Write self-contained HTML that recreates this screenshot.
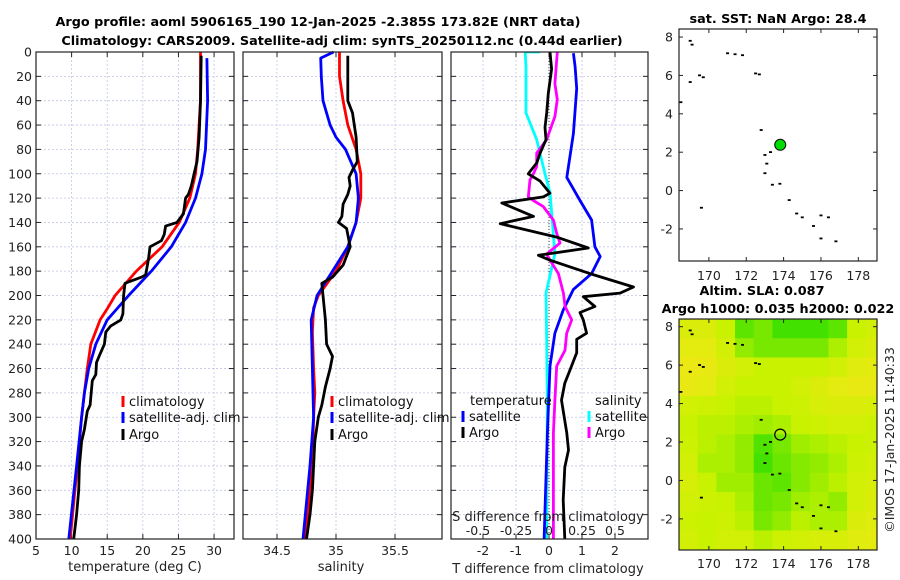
<!DOCTYPE html>
<html><head><meta charset="utf-8"><style>
html,body{margin:0;padding:0;background:#fff;}
svg{display:block;font-family:"DejaVu Sans","Liberation Sans",sans-serif;}
</style></head><body>
<svg id="fig" width="900" height="580" viewBox="0 0 900 580" xmlns="http://www.w3.org/2000/svg">
<rect width="900" height="580" fill="#fff"/>
<g id="titles" font-weight="bold" font-size="12.8" text-anchor="middle" fill="#000">
<text x="318" y="26">Argo profile: aoml 5906165_190 12-Jan-2025 -2.385S 173.82E (NRT data)</text>
<text x="342" y="45">Climatology: CARS2009. Satellite-adj clim: synTS_20250112.nc (0.44d earlier)</text>
<text x="778" y="23">sat. SST: NaN Argo: 28.4</text>
<text x="762" y="295">Altim. SLA: 0.087</text>
<text x="778" y="313">Argo h1000: 0.035 h2000: 0.022</text>
</g>
<text transform="translate(894,440) rotate(-90)" font-size="12.5" text-anchor="middle" fill="#222">©IMOS 17-Jan-2025 11:40:33</text>
</svg>
<script>
// ---------- data ----------
const depthTicks=[0,20,40,60,80,100,120,140,160,180,200,220,240,260,280,300,320,340,360,380,400];
const tempTicks=[5,10,15,20,25,30];
const salTicks=[34.5,35,35.5];
const tdiffTicks=[-2,-1,0,1,2];
const sdiffTicks=[-0.5,-0.25,0,0.25,0.5];
const sdiffTickLabels=["-0.5","-0.25","0","0.25","0.5"];

const argoTDepth=[3,40,70,90,100,110,117,120,133,140,143,150,155,160,170,183,185,190,200,215,220,225,230,240,248,255,265,270,290,295,310,320,340,360,380,400];
const argoT=[28.2,28.1,27.9,27.6,27.2,26.8,26.4,26.0,25.7,24.8,23.2,23.0,22.6,21.0,20.8,20.4,19.8,17.5,17.3,17.2,16.9,15.5,14.8,14.6,14.0,13.5,13.4,12.9,12.6,12.2,11.8,11.4,11.1,11.0,10.7,10.3];
const climTDepth=[0,40,80,100,120,140,160,180,200,210,220,240,260,280,300,340,400];
const climT=[28.1,28.1,27.7,27.4,26.6,25.1,22.7,19.1,16.1,15.1,14.0,12.7,12.2,11.8,11.4,10.8,9.8];
const satTDepth=[5,40,80,100,120,140,160,180,200,220,240,260,280,300,340,400];
const satT=[29.0,29.1,28.8,28.3,27.4,26.0,24.0,21.2,18.0,15.0,13.4,12.4,11.8,11.4,10.7,9.6];

const argoSDepth=[3,40,50,70,90,97,103,110,117,125,135,140,145,155,160,175,185,190,200,220,240,250,260,275,290,300,320,340,360,380,400];
const argoS=[35.10,35.10,35.14,35.17,35.18,35.14,35.11,35.12,35.10,35.06,35.05,35.02,35.09,35.11,35.12,35.06,34.97,34.88,34.89,34.91,34.92,34.97,34.95,34.91,34.88,34.85,34.82,34.81,34.80,34.78,34.75];
const climSDepth=[0,20,40,60,80,100,120,140,160,180,200,210,230,260,280,300,340,400];
const climS=[35.03,35.03,35.06,35.10,35.17,35.21,35.21,35.17,35.10,35.00,34.85,34.81,34.80,34.81,34.82,34.81,34.80,34.74];
const satSDepth=[0,5,20,40,60,70,80,100,120,140,160,180,200,220,260,300,340,400];
const satS=[34.98,34.87,34.875,34.89,34.95,35.00,35.08,35.17,35.19,35.17,35.10,34.97,34.84,34.79,34.80,34.81,34.78,34.72];

const argoTdDepth=[0,14,34,50,62,72,83,91,100,106,116,119,124,135,141,152,161,167,171,182,193,198,201,209,214,220,231,236,247,261,272,286,313,327,341,368,400];
const argoTd=[0.03,0.08,-0.02,-0.07,-0.12,-0.09,-0.27,-0.37,-0.63,-0.27,0.03,-0.17,-1.43,-0.47,-1.48,0.23,1.19,-0.32,0.03,1.24,2.56,2.15,1.04,1.39,0.94,1.04,1.14,0.84,0.84,0.64,0.48,0.38,0.54,0.59,0.48,0.43,0.48];
const satTdDepth=[1,12,30,67,103,122,138,160,168,182,195,212,231,258,313,400];
const satTd=[0.74,0.79,0.84,0.74,0.54,0.94,1.29,1.39,1.55,1.29,0.74,0.43,0.18,0.03,-0.05,-0.15];
const argoSdDepth=[0,26,39,53,72,83,94,100,105,119,122,127,138,149,157,166,171,182,198,209,220,231,245,258,286,313,341,400];
const argoSd=[0.063,0.045,0.063,0.045,-0.018,-0.093,-0.093,-0.118,-0.144,-0.157,-0.119,-0.043,0.033,0.058,0.083,-0.018,0.008,0.071,0.109,0.122,0.172,0.134,0.121,0.058,0.045,0.033,0.033,0.033];
const satSdDepth=[-4,0,12,50,72,100,116,166,198,231,286,400];
const satSd=[-0.068,-0.18,-0.174,-0.174,-0.093,-0.03,0.008,0.045,-0.023,-0.018,-0.013,-0.018];

const lonTicks=[170,172,174,176,178];
const latTicks=[8,6,4,2,0,-2];
const slaLon0=168.4, slaLat0=8.4;
const slaGrid=[
[0.2,0.2,0.4,0.8,0.7,0.9,0.9,0.9,0.8,0.4,0.3],
[0.1,0.1,0.3,0.6,0.7,0.7,0.7,0.7,0.5,0.3,0.2],
[0,0.05,0.2,0.3,0.4,0.4,0.4,0.4,0.3,0.15,0.1],
[0.05,0.1,0.3,0.4,0.4,0.4,0.3,0.2,0.1,0.05,0.05],
[0.3,0.35,0.4,0.45,0.45,0.4,0.35,0.25,0.2,0.2,0.25],
[0.4,0.45,0.45,0.5,0.55,0.5,0.4,0.35,0.3,0.3,0.35],
[0.35,0.45,0.5,0.6,0.85,0.7,0.55,0.5,0.45,0.4,0.35],
[0.3,0.5,0.5,0.6,0.9,0.75,0.65,0.6,0.5,0.35,0.3],
[0.25,0.4,0.55,0.55,0.75,0.8,0.65,0.55,0.45,0.3,0.25],
[0.3,0.35,0.4,0.5,0.75,0.7,0.55,0.5,0.6,0.3,0.2],
[0.35,0.4,0.35,0.45,0.7,0.6,0.45,0.5,0.5,0.2,0.15],
[0.3,0.4,0.3,0.3,0.45,0.35,0.3,0.25,0.25,0.15,0.1]];
const islandLon=[169,169.1,171,171.4,171.8,172.5,172.7,169.5,169.7,169,168.5,172.8,173,173.1,173,173.4,173.8,174.3,174.7,175,175.6,176,176.4,176,176.8,169.6,173.3];
const islandLat=[7.8,7.6,7.15,7.1,7.05,6.1,6.05,6.0,5.9,5.65,4.6,3.15,1.85,1.4,0.9,0.3,0.35,-0.5,-1.2,-1.4,-1.85,-1.3,-1.4,-2.5,-2.65,-0.9,2.0];
const argoLon=173.82, argoLat=2.385;

// ---------- helpers ----------
const NS="http://www.w3.org/2000/svg";
const fig=document.getElementById('fig');
function mk(tag,attrs,parent){const e=document.createElementNS(NS,tag);for(const k in attrs)e.setAttribute(k,attrs[k]);(parent||fig).appendChild(e);return e;}
const Y0=52,Y1=539;
const yD=d=>Y0+d*(Y1-Y0)/400;

function panel(name,x0,x1,xmin,xmax,ticks,labels,showY){
  const g=mk('g',{});
  
  
  const xs=v=>x0+(v-xmin)*(x1-x0)/(xmax-xmin);
  depthTicks.forEach(d=>{
    const l=mk('line',{x1:x0,x2:x1,y1:yD(d),y2:yD(d),stroke:'#c0c6e6','stroke-width':0.8,'stroke-dasharray':'2,2'},g);
    
    
    mk('line',{x1:x0,x2:x0+5,y1:yD(d),y2:yD(d),stroke:'#222'},g);
    mk('line',{x1:x1,x2:x1-5,y1:yD(d),y2:yD(d),stroke:'#222'},g);
    if(showY){const t=mk('text',{x:x0-4,y:yD(d)+4.5,'font-size':12.5,'text-anchor':'end',fill:'#222'},g);t.textContent=d;
      
      }
  });
  ticks.forEach((v,i)=>{
    const x=xs(v);
    const l=mk('line',{x1:x,x2:x,y1:Y0,y2:Y1,stroke:'#c0c6e6','stroke-width':0.8,'stroke-dasharray':'2,2'},g);
    
    
    mk('line',{x1:x,x2:x,y1:Y1,y2:Y1-5,stroke:'#222'},g);
    mk('line',{x1:x,x2:x,y1:Y0,y2:Y0+5,stroke:'#222'},g);
    if(labels){const t=mk('text',{x:x,y:555,'font-size':12.5,'text-anchor':'middle',fill:'#222'},g);t.textContent=labels[i];
      
      }
  });
  return {g,xs};
}
function line(p,depths,vals,color,name,sw){
  const pts=depths.map((d,i)=>p.xs(vals[i]).toFixed(1)+','+yD(Math.max(0,d)).toFixed(1)).join(' ');
  const pl=mk('polyline',{points:pts,fill:'none',stroke:color,'stroke-width':sw||2.8,'stroke-linejoin':'round'},p.g);
  
  
}
function frame(p,x0,x1){mk('rect',{x:x0,y:Y0,width:x1-x0,height:Y1-Y0,fill:'none',stroke:'#222','stroke-width':1.2},p.g);}
function legEntry(g,x,y,color,text,name){
  mk('rect',{x:x-1.5,y:y-10,width:3,height:11,fill:color},g);
  const t=mk('text',{x:x+6,y:y,'font-size':13,fill:'#111'},g);t.textContent=text;
  
  
}

// ---------- temperature panel ----------
const pT=panel('temperature-panel',36,234,5,32.8,tempTicks,tempTicks,true);
line(pT,climTDepth,climT,'#ff0000','climatology-temp-line');
line(pT,satTDepth,satT,'#0000ff','satellite-temp-line');
line(pT,argoTDepth,argoT,'#000000','argo-temp-line');
frame(pT,36,234);
let tx=mk('text',{x:135,y:571,'font-size':13,'text-anchor':'middle',fill:'#222'},pT.g);tx.textContent='temperature (deg C)';


legEntry(pT.g,123,406,'#ff0000','climatology','legend-climatology');
legEntry(pT.g,123,422,'#0000ff','satellite-adj. clim','legend-satellite-adj');
legEntry(pT.g,123,439,'#000','Argo','legend-argo');

// ---------- salinity panel ----------
const pS=panel('salinity-panel',243,442,34.212,35.898,salTicks,salTicks,false);
line(pS,climSDepth,climS,'#ff0000','climatology-salinity-line');
line(pS,satSDepth,satS,'#0000ff','satellite-salinity-line');
line(pS,argoSDepth,argoS,'#000000','argo-salinity-line');
frame(pS,243,442);
tx=mk('text',{x:341,y:571,'font-size':13,'text-anchor':'middle',fill:'#222'},pS.g);tx.textContent='salinity';


legEntry(pS.g,332,406,'#ff0000','climatology','legend-climatology-sal');
legEntry(pS.g,332,422,'#0000ff','satellite-adj. clim','legend-satellite-adj-sal');
legEntry(pS.g,332,439,'#000','Argo','legend-argo-sal');

// ---------- difference panel ----------
const pD=panel('difference-panel',451,648,-2.97,3.0,tdiffTicks,tdiffTicks,false);
const pDs={g:pD.g,xs:v=>549+v*132};
mk('line',{x1:549,x2:549,y1:Y0,y2:Y1,stroke:'#444','stroke-width':1,'stroke-dasharray':'1,2'},pD.g);
line(pDs,satSdDepth,satSd,'#00ffff','satellite-salinity-diff-line');
line(pD,satTdDepth,satTd,'#0000ff','satellite-temp-diff-line');
line(pDs,argoSdDepth,argoSd,'#ff00ff','argo-salinity-diff-line');
line(pD,argoTdDepth,argoTd,'#000000','argo-temp-diff-line');
mk('rect',{x:451,y:Y0-6,width:197,height:6,fill:'#fff'},pD.g);
frame(pD,451,648);
tx=mk('text',{x:548,y:573,'font-size':13,'text-anchor':'middle',fill:'#222'},pD.g);tx.textContent='T difference from climatology';


tx=mk('text',{x:548,y:521,'font-size':13,'text-anchor':'middle',fill:'#222'},pD.g);tx.textContent='S difference from climatology';


sdiffTicks.forEach((v,i)=>{
  const t=mk('text',{x:pDs.xs(v)-(i===0?5:0),y:535,'font-size':12.5,'text-anchor':'middle',fill:'#222'},pD.g);t.textContent=sdiffTickLabels[i];
  
  
});
tx=mk('text',{x:470,y:405,'font-size':13,fill:'#111'},pD.g);tx.textContent='temperature';


tx=mk('text',{x:595,y:405,'font-size':13,fill:'#111'},pD.g);tx.textContent='salinity';


legEntry(pD.g,463,421,'#0000ff','satellite','legend-temp-satellite');
legEntry(pD.g,463,437,'#000','Argo','legend-temp-argo');
legEntry(pD.g,589,421,'#00ffff','satellite','legend-sal-satellite');
legEntry(pD.g,589,437,'#ff00ff','Argo','legend-sal-argo');

// ---------- maps ----------
function mapAxes(name,top,bottom,latTop,latBot,labelY){
  const g=mk('g',{});
  
  
  const x0=679,x1=877;
  const lx=v=>x0+(v-168.4)*(x1-x0)/(179.0-168.4);
  const ly=v=>top+(latTop-v)*(bottom-top)/(latTop-latBot);
  return {g,lx,ly,x0,x1,top,bottom,labelY};
}
function mapFrame(m){
  mk('rect',{x:m.x0,y:m.top,width:m.x1-m.x0,height:m.bottom-m.top,fill:'none',stroke:'#222','stroke-width':1.2},m.g);
  lonTicks.forEach(v=>{const x=m.lx(v);
    mk('line',{x1:x,x2:x,y1:m.bottom,y2:m.bottom-4,stroke:'#222'},m.g);
    mk('line',{x1:x,x2:x,y1:m.top,y2:m.top+4,stroke:'#222'},m.g);
    const t=mk('text',{x:x,y:m.labelY,'font-size':12.5,'text-anchor':'middle',fill:'#222'},m.g);t.textContent=v;
    
    });
  latTicks.forEach(v=>{const y=m.ly(v);
    mk('line',{x1:m.x0,x2:m.x0+4,y1:y,y2:y,stroke:'#222'},m.g);
    mk('line',{x1:m.x1,x2:m.x1-4,y1:y,y2:y,stroke:'#222'},m.g);
    const t=mk('text',{x:m.x0-6,y:y+4.5,'font-size':12.5,'text-anchor':'end',fill:'#222'},m.g);t.textContent=v;
    
    });
}
function islands(m){
  islandLon.forEach((lo,i)=>{
    const r=mk('rect',{x:m.lx(lo)-1.5,y:m.ly(islandLat[i])-1,width:3,height:1.8,fill:'#000'},m.g);
    
    
  });
}
function argoDot(m){
  const c=mk('circle',{cx:m.lx(argoLon),cy:m.ly(argoLat),r:5.5,fill:'#00dd00',stroke:'#000','stroke-width':1},m.g);
  
  
}
const mSST=mapAxes('sst-map',29,261,8.42,-3.67,280);
islands(mSST);argoDot(mSST);mapFrame(mSST);

const mSLA=mapAxes('sla-map',319,550,8.4,-3.62,568);
function slaColor(v){
  const a=[236,232,20],b=[200,242,0],c=[40,222,0];
  let r,k;
  if(v<0.4){k=v/0.4;r=a.map((x,i)=>x+(b[i]-x)*k);} else {k=(v-0.4)/0.6;r=b.map((x,i)=>x+(c[i]-x)*k);}
  return 'rgb('+r.map(Math.round).join(',')+')';
}
slaGrid.forEach((row,ri)=>row.forEach((v,ci)=>{
  const lo=slaLon0+ci, la=slaLat0-ri;
  const x=mSLA.lx(lo), y=mSLA.ly(la), w=mSLA.lx(Math.min(lo+1,179))-x, h=mSLA.ly(Math.max(la-1,-3.62))-y;
  const r=mk('rect',{x:x,y:y,width:w+0.6,height:h+0.6,fill:slaColor(v)},mSLA.g);
  
  
}));
islands(mSLA);
const ring=mk('circle',{cx:mSLA.lx(argoLon),cy:mSLA.ly(argoLat),r:5.5,fill:'none',stroke:'#000','stroke-width':1.2},mSLA.g);


mapFrame(mSLA);
</script>
</body></html>
